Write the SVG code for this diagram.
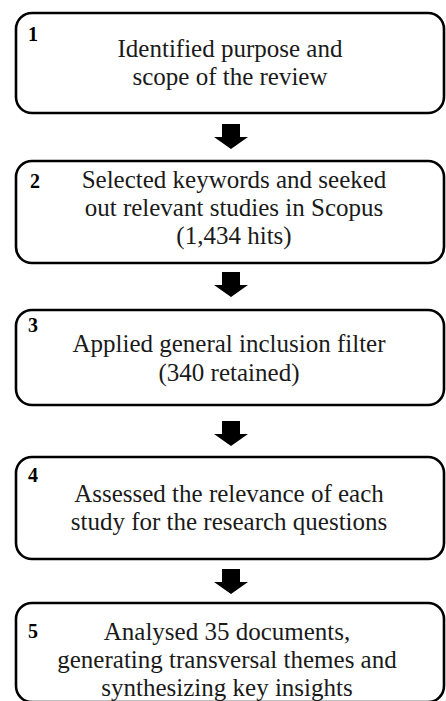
<svg xmlns="http://www.w3.org/2000/svg" width="446" height="701" viewBox="0 0 446 701">
<style>
.box{fill:#fff;stroke:#000;stroke-width:2.6}
.t{font-family:"Liberation Serif","Times New Roman",serif;font-size:25px;fill:#1a1a1a;text-anchor:middle}
.n{font-family:"Liberation Serif","Times New Roman",serif;font-size:20px;font-weight:bold;fill:#000}
.arr{fill:#000}
</style>
<rect width="446" height="701" fill="#fff"/>
<defs>
<path id="arrow" d="M-9,0 H9 V13 H17 L0,25 L-17,13 H-9 Z"/>
</defs>
<g id="connectors">
<use href="#arrow" class="arr" x="231" y="124"/>
<use href="#arrow" class="arr" x="231" y="272"/>
<use href="#arrow" class="arr" x="231" y="421"/>
<use href="#arrow" class="arr" x="231" y="569"/>
</g>
<g id="step1">
<rect class="box" x="16" y="13" width="428" height="100" rx="16"/>
<text class="n" x="28" y="41">1</text>
<text class="t" x="230" y="57">Identified purpose and</text>
<text class="t" x="230" y="85">scope of the review</text>
</g>
<g id="step2">
<rect class="box" x="16" y="161" width="428" height="102" rx="16"/>
<text class="n" x="30" y="188">2</text>
<text class="t" x="234" y="188">Selected keywords and seeked</text>
<text class="t" x="234" y="216">out relevant studies in Scopus</text>
<text class="t" x="234" y="244">(1,434 hits)</text>
</g>
<g id="step3">
<rect class="box" x="16" y="310" width="428" height="95" rx="16"/>
<text class="n" x="28" y="332">3</text>
<text class="t" x="229" y="352">Applied general inclusion filter</text>
<text class="t" x="229" y="381">(340 retained)</text>
</g>
<g id="step4">
<rect class="box" x="16" y="457" width="428" height="102" rx="16"/>
<text class="n" x="28" y="482">4</text>
<text class="t" x="229" y="502">Assessed the relevance of each</text>
<text class="t" x="229" y="530">study for the research questions</text>
</g>
<g id="step5">
<rect class="box" x="16" y="603" width="428" height="99" rx="16"/>
<text class="n" x="28" y="638">5</text>
<text class="t" x="227" y="640">Analysed 35 documents,</text>
<text class="t" x="227" y="668">generating transversal themes and</text>
<text class="t" x="227" y="696">synthesizing key insights</text>
</g>
</svg>
